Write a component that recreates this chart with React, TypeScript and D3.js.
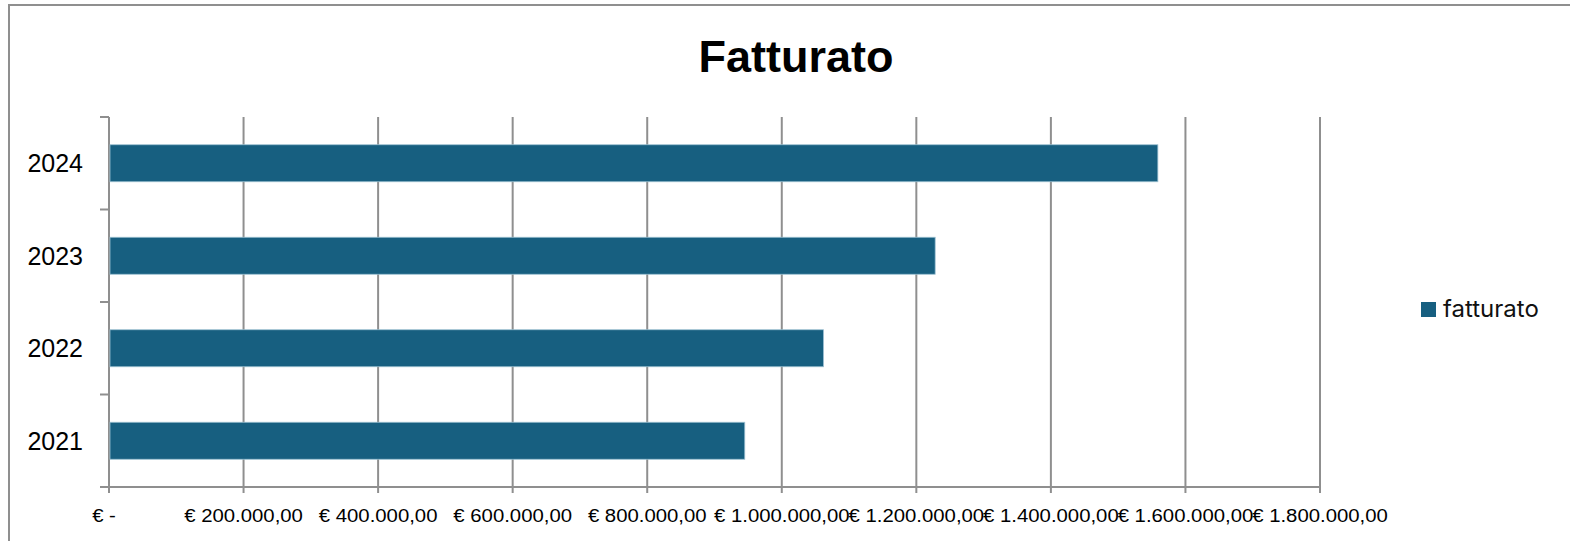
import React from "react";
import * as d3 from "d3";

const categories = ["2024", "2023", "2022", "2021"];
const fatturato = [1559000, 1228000, 1062000, 945000];
const tickValues = [0, 200000, 400000, 600000, 800000, 1000000, 1200000, 1400000, 1600000, 1800000];
const tickLabels = [
  "€ -",
  "€ 200.000,00",
  "€ 400.000,00",
  "€ 600.000,00",
  "€ 800.000,00",
  "€ 1.000.000,00",
  "€ 1.200.000,00",
  "€ 1.400.000,00",
  "€ 1.600.000,00",
  "€ 1.800.000,00",
];
const seriesName = "fatturato";
const title = "Fatturato";

const W = 1570;
const H = 541;
const plot = { left: 109, right: 1320, top: 117, bottom: 487 };
const gridColor = "#8f8f8f";
const barColor = "#175f80";

export default function App() {
  const x = d3.scaleLinear().domain([0, 1800000]).range([plot.left, plot.right]);
  const y = d3
    .scaleBand<string>()
    .domain(categories)
    .range([plot.top, plot.bottom])
    .paddingInner(0.6)
    .paddingOuter(0.3);
  const step = y.step();
  const boundaries = d3.range(categories.length + 1).map((i) => plot.top + i * step);

  return (
    <svg
      width={W}
      height={H}
      style={{ position: "absolute", left: 0, top: 0, display: "block" }}
      fontFamily="'Liberation Sans', Arial, sans-serif"
    >
      <rect x={0} y={0} width={W} height={H} fill="#fff" />
      {/* outer border */}
      <path d={`M9,${H + 5} L9,5 L${W + 5},5`} fill="none" stroke={gridColor} strokeWidth={2} />
      <text x={796} y={72} textAnchor="middle" fontSize={45} fontWeight="bold" fill="#000">
        {title}
      </text>
      {/* vertical gridlines */}
      {tickValues.map((v, i) => (
        <line
          key={"g" + i}
          x1={x(v)}
          x2={x(v)}
          y1={plot.top}
          y2={plot.bottom + 6}
          stroke={gridColor}
          strokeWidth={2}
        />
      ))}
      {/* x axis line */}
      <line x1={plot.left - 9} x2={plot.right} y1={plot.bottom} y2={plot.bottom} stroke={gridColor} strokeWidth={2} />
      {/* y tick stubs */}
      {boundaries.map((b, i) => (
        <line key={"t" + i} x1={plot.left - 9} x2={plot.left} y1={b} y2={b} stroke={gridColor} strokeWidth={2} />
      ))}
      {/* bars */}
      {categories.map((c, i) => (
        <rect
          key={c}
          x={x(0) + 1}
          y={y(c)!}
          width={x(fatturato[i]) - x(0) - 1}
          height={y.bandwidth()}
          fill={barColor}
          stroke="#9cc0d2"
          strokeWidth={0.8}
        />
      ))}
      {/* y labels */}
      {categories.map((c) => (
        <text
          key={"l" + c}
          x={83}
          y={y(c)! + y.bandwidth() / 2}
          dy="0.36em"
          textAnchor="end"
          fontSize={25}
          fill="#000"
        >
          {c}
        </text>
      ))}
      {/* x labels */}
      {tickValues.map((v, i) => (
        <text
          key={"x" + i}
          transform={`translate(${x(v) - (i === 0 ? 5 : 0)},521.5) scale(1.13,1)`}
          textAnchor="middle"
          fontSize={18}
          fill="#000"
        >
          {tickLabels[i]}
        </text>
      ))}
      {/* legend */}
      <rect x={1421} y={302} width={15} height={15} fill={barColor} />
      <text x={1443} y={317} fontSize={24} fill="#111" fontFamily="Inter, sans-serif">
        {seriesName}
      </text>
    </svg>
  );
}
